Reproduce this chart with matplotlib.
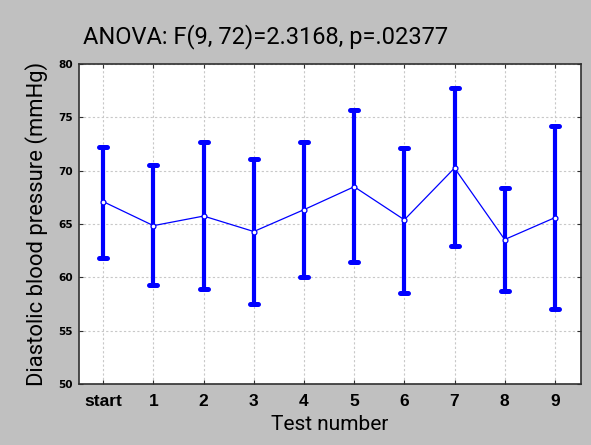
import numpy as np
import matplotlib.pyplot as plt
from matplotlib.markers import MarkerStyle

# Data
groups = ["start", "1", "2", "3", "4", "5", "6", "7", "8", "9"]
means = [67.1, 64.85, 65.75, 64.3, 66.35, 68.5, 65.4, 70.25, 63.55, 65.6]
upper = [72.2, 70.55, 72.7, 71.1, 72.7, 75.7, 72.15, 77.75, 68.4, 74.2]
lower = [61.8, 59.3, 58.9, 57.55, 60.0, 61.45, 58.55, 62.95, 58.75, 57.0]

x = np.arange(len(groups))
means_a = np.array(means)
yerr = [means_a - np.array(lower), np.array(upper) - means_a]

label_font = ["Roboto", "DejaVu Sans"]

fig = plt.figure(figsize=(5.91, 4.45), dpi=100, facecolor="#c0c0c0")
ax = fig.add_axes([0.134, 0.137, 0.849, 0.719])
ax.set_facecolor("white")

eb = ax.errorbar(x, means, yerr=yerr, fmt="none", ecolor="#0000ff",
                 elinewidth=3.0, capsize=2.6, capthick=3.6, zorder=3)
for cap in eb[1]:
    cap.set_marker(MarkerStyle("_", capstyle="round"))
ax.plot(x, means, color="#0000ff", linewidth=0.9, marker="o", markersize=3.5,
        markerfacecolor="white", markeredgecolor="#0000ff", markeredgewidth=0.9,
        zorder=4)

ax.set_xlim(-0.48, 9.52)
ax.set_ylim(50, 80)
ax.set_yticks(np.arange(50, 81, 5))
ax.set_xticks(x)
ax.set_xticklabels(groups, fontsize=12.5, fontweight="bold", family="Liberation Sans")
for lab in ax.get_yticklabels():
    lab.set_fontsize(7.6)
    lab.set_fontweight("bold")
    lab.set_family("DejaVu Sans")

ax.grid(True, color="#c8c8c8", linestyle=(0, (2, 2)), linewidth=0.8)
ax.set_axisbelow(True)
ax.tick_params(direction="in", top=True, right=True, length=3, color="#303030")
ax.tick_params(axis="x", pad=7.5)
ax.tick_params(axis="y", pad=4.5)
for s in ax.spines.values():
    s.set_color("#303030")
    s.set_linewidth(1.2)

ax.set_xlabel("Test number", fontsize=15, family=label_font, labelpad=4)
ax.set_ylabel("Diastolic blood pressure (mmHg)", fontsize=15.8, family=label_font)
ax.yaxis.set_label_coords(-0.062, 0.5)
fig.text(0.45, 0.917, "ANOVA: F(9, 72)=2.3168, p=.02377", fontsize=17,
         family=label_font, ha="center", va="center")

fig.savefig("out.png", dpi=100, facecolor=fig.get_facecolor())
